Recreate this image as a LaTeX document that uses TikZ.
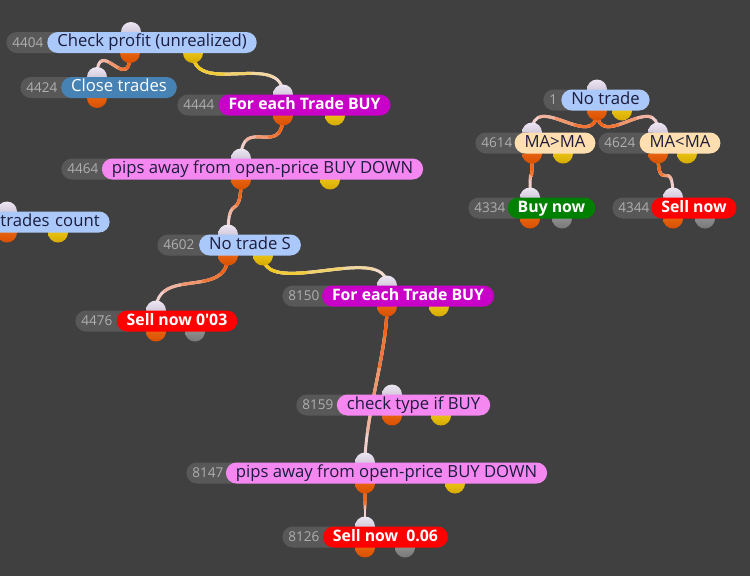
\documentclass[tikz,border=0pt]{standalone}
\usepackage{fontspec}
\setmainfont{Open Sans}
\usetikzlibrary{calc,backgrounds}
\definecolor{canvasgrey}{RGB}{64,64,64}
\definecolor{idgrey}{RGB}{88,88,88}
\definecolor{idink}{RGB}{175,175,175}
\definecolor{labelink}{RGB}{28,28,60}
\definecolor{skyfill}{RGB}{170,200,250}
\definecolor{steelfill}{RGB}{70,130,180}
\definecolor{magfill}{RGB}{200,0,200}
\definecolor{pinkfill}{RGB}{245,135,240}
\definecolor{peachfill}{RGB}{255,222,175}
\definecolor{greenfill}{RGB}{0,128,0}
\definecolor{redfill}{RGB}{255,0,0}
\definecolor{wireorange}{RGB}{240,100,25}
\definecolor{wireyellow}{RGB}{240,200,30}
\definecolor{wirepale}{RGB}{242,222,228}
\pgfdeclarelayer{canvas}
\pgfdeclarelayer{ports}
\pgfsetlayers{canvas,background,ports,main}
\newcommand{\lbfont}{\fontsize{9.5}{11}\selectfont}
\newcommand{\bdfont}{\fontsize{9}{11}\selectfont\bfseries}
\newcommand{\idfont}{\fontsize{7.7}{9}\selectfont}
\newcommand{\sq}{\textquotesingle{}}
\tikzset{
  idpill/.style={fill=idgrey, text=idink, rounded corners=0.21cm, minimum height=0.42cm,
    inner xsep=0.12cm, inner ysep=0pt, align=left, font=\idfont, text height=5.6pt, text depth=0.4pt},
  lbpill/.style={rounded corners=0.21cm, minimum height=0.42cm, inner xsep=0.2cm, inner ysep=0pt,
    font=\lbfont, text height=6.8pt, text depth=1.8pt},
  skybox/.style={lbpill, fill=skyfill, text=labelink},
  pinkbox/.style={lbpill, fill=pinkfill, text=labelink},
  peachbox/.style={lbpill, fill=peachfill, text=labelink},
  steelbox/.style={lbpill, fill=steelfill, text=white},
  magbox/.style={lbpill, fill=magfill, text=white, font=\bdfont},
  greenbox/.style={lbpill, fill=greenfill, text=white, font=\bdfont},
  redbox/.style={lbpill, fill=redfill, text=white, font=\bdfont},
  port/.style={circle, minimum size=0.4cm, inner sep=0pt},
  inport/.style={port, top color={rgb,255:red,238;green,230;blue,242}, bottom color={rgb,255:red,185;green,175;blue,200}},
  oport/.style={port, top color={rgb,255:red,245;green,115;blue,30}, bottom color={rgb,255:red,215;green,80;blue,0}},
  yport/.style={port, top color={rgb,255:red,248;green,215;blue,40}, bottom color={rgb,255:red,215;green,170;blue,0}},
  gport/.style={port, top color={rgb,255:red,160;green,160;blue,160}, bottom color={rgb,255:red,120;green,120;blue,120}},
  wire/.style={line width=1.7pt}
}
% #1 name, #2 centre y, #3 id pill left, #4 label left, #5 label right, #6 id, #7 style, #8 text
\newcommand{\block}[8]{%
  \pgfmathsetmacro\idw{(#4+20-#3)*0.02-0.24}%
  \pgfmathsetmacro\lbw{(#5-#4)*0.02}%
  \node[idpill, text width=\idw cm, anchor=west] (#1-id) at (#3,#2) {#6};
  \node[#7, minimum width=\lbw cm] (#1) at ({(#4+#5)/2},#2) {#8};
}
% in port and first out port
\newcommand{\ports}[4]{%
  \begin{pgfonlayer}{ports}
    \node[inport] (#1-in) at (#3,#2-10.5) {};
    \node[oport] (#1-o) at (#4,#2+10.5) {};
  \end{pgfonlayer}
}
% second out port
\newcommand{\side}[4]{%
  \begin{pgfonlayer}{ports}
    \node[#4] (#1-p) at (#3,#2+10.5) {};
  \end{pgfonlayer}
}
% fading link, drawn in bands from the source end
\newcommand{\wire}[3]{%
  \begin{pgfonlayer}{background}
    \path (#1.center) coordinate (p0) ++(0,45) coordinate (p1)
          (#2.center) coordinate (p3) ++(0,-45) coordinate (p2);
    \foreach \wt/\wm in {1/12,0.8/35,0.6/60,0.4/85,0.2/100}{
      \path ($(p0)!\wt!(p1)$) coordinate (qa) ($(p1)!\wt!(p2)$) coordinate (qb)
            ($(p2)!\wt!(p3)$) coordinate (qc);
      \path ($(qa)!\wt!(qb)$) coordinate (qd) ($(qb)!\wt!(qc)$) coordinate (qe);
      \path ($(qd)!\wt!(qe)$) coordinate (qf);
      \draw[wire, #3!\wm!wirepale] (p0) .. controls (qa) and (qd) .. (qf);
    }
  \end{pgfonlayer}
}

\begin{document}
\begin{tikzpicture}[x=0.02cm, y=-0.02cm]
  \useasboundingbox (0,0) rectangle (750,576);
  \begin{pgfonlayer}{canvas}
    \fill[canvasgrey] (0,0) rectangle (750,576);
  \end{pgfonlayer}

  % left tree
  \ports{a4404}{42.5}{131}{130} \side{a4404}{42.5}{193}{yport}
  \block{a4404}{42.5}{6}{48}{256}{4404}{skybox}{Check profit (unrealized)}
  \ports{a4424}{87.5}{97}{97}
  \block{a4424}{87.5}{20}{63}{175}{4424}{steelbox}{Close trades}
  \ports{a4444}{105}{283}{283} \side{a4444}{105}{335}{yport}
  \block{a4444}{105}{177}{221}{388}{4444}{magbox}{For each Trade BUY}
  \ports{a4464}{169}{241}{241} \side{a4464}{169}{330}{yport}
  \block{a4464}{169}{61}{104}{421}{4464}{pinkbox}{pips away from open-price BUY DOWN}
  \ports{a4602}{245}{228}{228} \side{a4602}{245}{263}{yport}
  \block{a4602}{245}{157}{200}{300}{4602}{skybox}{No trade S}
  \ports{a4476}{321}{156}{156} \side{a4476}{321}{195}{gport}
  \block{a4476}{321}{75}{118}{236}{4476}{redbox}{Sell now 0\sq 03}
  \ports{a8150}{296}{387}{387} \side{a8150}{296}{439}{yport}
  \block{a8150}{296}{282}{324}{492}{8150}{magbox}{For each Trade BUY}
  \ports{a8159}{405}{392}{392} \side{a8159}{405}{441}{yport}
  \block{a8159}{405}{296}{339}{488}{8159}{pinkbox}{check type if BUY}
  \ports{a8147}{473}{365}{365} \side{a8147}{473}{455}{yport}
  \block{a8147}{473}{186}{228}{545}{8147}{pinkbox}{pips away from open-price BUY DOWN}
  \ports{a8126}{537}{365}{365} \side{a8126}{537}{405}{gport}
  \block{a8126}{537}{282}{324}{447}{8126}{redbox}{Sell now~~0.06}

  % cut off at the left edge
  \ports{atc}{222}{7}{7} \side{atc}{222}{58}{yport}
  \node[skybox, anchor=east, text width=3.0cm, align=right] (atc) at (110,222) {trades count};

  % right tree
  \ports{a1}{100}{597}{597} \side{a1}{100}{622}{yport}
  \block{a1}{100}{543}{563}{648}{1}{skybox}{No trade}
  \ports{a4614}{143}{532}{532} \side{a4614}{143}{563}{yport}
  \block{a4614}{143}{475}{517}{593}{4614}{peachbox}{MA>MA}
  \ports{a4624}{143}{658}{658} \side{a4624}{143}{687}{yport}
  \block{a4624}{143}{598}{642}{718}{4624}{peachbox}{MA<MA}
  \ports{a4334}{208}{530}{530} \side{a4334}{208}{562}{gport}
  \block{a4334}{208}{468}{510}{593}{4334}{greenbox}{Buy now}
  \ports{a4344}{208}{673}{673} \side{a4344}{208}{705}{gport}
  \block{a4344}{208}{612}{653}{735}{4344}{redbox}{Sell now}

  % links
  \wire{a4404-o}{a4424-in}{wireorange}
  \wire{a4404-p}{a4444-in}{wireyellow}
  \wire{a4444-o}{a4464-in}{wireorange}
  \wire{a4464-o}{a4602-in}{wireorange}
  \wire{a4602-o}{a4476-in}{wireorange}
  \wire{a4602-p}{a8150-in}{wireyellow}
  \wire{a8150-o}{a8147-in}{wireorange}
  \wire{a8147-o}{a8126-in}{wireorange}
  \wire{a1-o}{a4614-in}{wireorange}
  \wire{a1-o}{a4624-in}{wireorange}
  \wire{a4614-o}{a4334-in}{wireorange}
  \wire{a4624-o}{a4344-in}{wireorange}
\end{tikzpicture}
\end{document}
